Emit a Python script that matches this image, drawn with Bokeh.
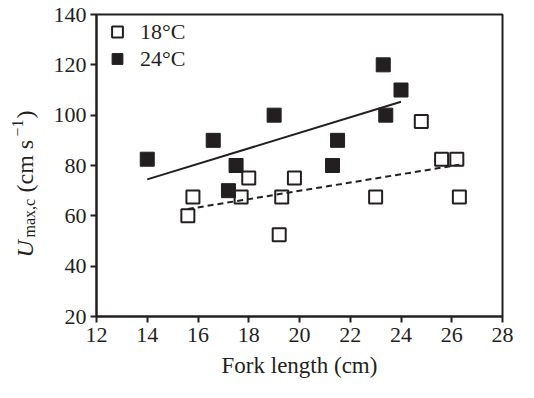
import math
from bokeh.plotting import figure
from bokeh.layouts import row
from bokeh.models import Legend, LegendItem, Range1d, FixedTicker
from bokeh.core.properties import value
from bokeh.embed import file_html
from bokeh.resources import INLINE

# ---- data ----
x18 = [15.6, 15.8, 17.7, 18.0, 19.2, 19.3, 19.8, 23.0, 24.8, 25.6, 26.2, 26.3]
y18 = [60.0, 67.5, 67.5, 75.0, 52.5, 67.5, 75.0, 67.5, 97.5, 82.5, 82.5, 67.5]
x24 = [14.0, 16.6, 17.2, 17.5, 19.0, 21.3, 21.5, 23.3, 23.4, 24.0]
y24 = [82.5, 90.0, 70.0, 80.0, 100.0, 80.0, 90.0, 120.0, 100.0, 110.0]
fit18_x = [15.6, 26.3]
fit18_y = [62.7, 80.3]
fit24_x = [14.0, 24.0]
fit24_y = [74.5, 105.3]
x_ticks = [12, 14, 16, 18, 20, 22, 24, 26, 28]
y_ticks = [20, 40, 60, 80, 100, 120, 140]
labels = ["18°C", "24°C"]
x_title = "Fork length (cm)"

INK = "#231f20"
FONT = "Liberation Serif"
W, H = 518, 382
LW = 44                      # strip holding the rotated y title
MW = W - LW
BL, BR, BT, BB = 96 - LW, 16, 14, 66
FTOP, FBOT = BT, H - BB      # frame top / bottom in page pixels

# ---------- main plot ----------
p = figure(width=MW, height=H, output_backend="svg", toolbar_location=None,
           x_range=Range1d(12, 28), y_range=Range1d(20, 140),
           min_border_left=BL, min_border_right=BR, min_border_top=BT, min_border_bottom=BB)
p.background_fill_color = "white"
p.border_fill_color = "white"
p.grid.visible = False
p.outline_line_color = INK
p.outline_line_width = 2

for ax in (p.xaxis[0], p.yaxis[0]):
    ax.axis_line_color = INK
    ax.axis_line_width = 2
    ax.major_tick_line_color = INK
    ax.major_tick_line_width = 2
    ax.major_tick_out = 6
    ax.major_tick_in = 0
    ax.minor_tick_line_color = None
    ax.major_label_text_font = FONT
    ax.major_label_text_font_size = "22px"
    ax.major_label_text_color = INK
p.xaxis.ticker = FixedTicker(ticks=x_ticks)
p.yaxis.ticker = FixedTicker(ticks=y_ticks)
p.xaxis.major_label_standoff = 5
p.yaxis.major_label_standoff = 4
p.xaxis.axis_label = x_title
p.xaxis.axis_label_text_font = FONT
p.xaxis.axis_label_text_font_style = "normal"
p.xaxis.axis_label_text_font_size = "23px"
p.xaxis.axis_label_text_color = INK
p.xaxis.axis_label_standoff = 8

# regression lines
p.line(fit24_x, fit24_y, line_color=INK, line_width=2)
p.line(fit18_x, fit18_y, line_color=INK, line_width=2, line_dash="6 4")

# points
s18 = p.scatter(x18, y18, marker="square", size=13, fill_color=None,
                line_color=INK, line_width=2)
s24 = p.scatter(x24, y24, marker="square", size=14, fill_color=INK,
                line_color=INK, line_width=1)

legend = Legend(items=[LegendItem(label=labels[0], renderers=[s18]),
                       LegendItem(label=labels[1], renderers=[s24])],
                location="top_left", margin=4, padding=8, spacing=0,
                glyph_width=34, glyph_height=27, label_height=20,
                label_standoff=6, border_line_color=None,
                background_fill_alpha=0,
                label_text_font=FONT, label_text_font_size="22px",
                label_text_color=INK)
p.add_layout(legend)

# ---------- y title strip (its frame is row-aligned with the main frame) ----------
t = figure(width=LW, height=H, output_backend="svg", toolbar_location=None,
           x_range=Range1d(0, LW), y_range=Range1d(H - FBOT, H - FTOP),
           min_border=0, x_axis_location=None, y_axis_location=None)
t.outline_line_color = None
t.background_fill_color = "white"
t.border_fill_color = "white"
t.grid.visible = False

def piece(text, base_x, py, size, style="normal"):
    # rotated text: anchor shifted so that the visible baseline sits at base_x
    t.text(x=[base_x - 0.375 * size], y=[H - py], text=[text], angle=math.pi / 2,
           text_font=value(FONT), text_font_size=value(f"{size}px"),
           text_font_style=style, text_color=INK,
           text_align="left", text_baseline="alphabetic")

piece("U", 33, 257, 24, "italic")
piece("max,c", 35, 237, 16)
piece("(cm s", 33, 192, 24)
piece("−1", 23, 136, 16)
piece(")", 33, 118, 24)

layout = row(t, p, spacing=0)
open("out.html", "w").write(file_html(layout, INLINE))
